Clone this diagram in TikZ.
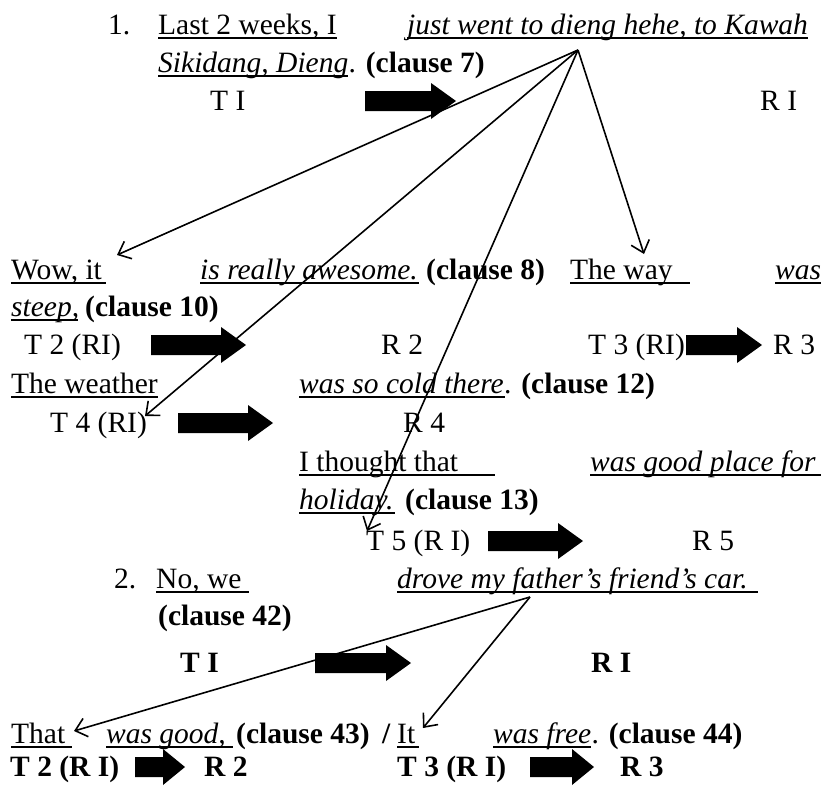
\documentclass[tikz,border=0pt]{standalone}
\usepackage{fontspec}
\setmainfont{Liberation Serif}
\usetikzlibrary{arrows.meta}
\tikzset{
  txt/.style={anchor=base west, inner sep=0pt, font=\fontsize{29.5}{34}\selectfont},
  ulline/.style={line width=1.8pt},
  link/.style={line width=1.6pt, -{Straight Barb[length=11pt,width=19pt,line width=1.6pt]}},
}
% thick block arrow: from x=#1 to x=#2 centred at height #3, head length #4
\newcommand\blockarrow[4]{%
  \fill (#1,#3-10) -- (#2-#4,#3-10) -- (#2-#4,#3-18) -- (#2,#3)
        -- (#2-#4,#3+18) -- (#2-#4,#3+10) -- (#1,#3+10) -- cycle;}
% underline from x=#1 to x=#2 below baseline #3
\newcommand\ulseg[3]{\draw[ulline] (#1,#3+4) -- (#2,#3+4);}
\begin{document}
\begin{tikzpicture}[x=1pt,y=-1pt]
\useasboundingbox (0,0) rectangle (827,785);

% ---- example 1 ----
\node[txt] (n1) at (108,34) {1.};
\node[txt] (l1a) at (158,34) {Last 2 weeks, I};
\ulseg{158}{337}{34}
\node[txt] (l1b) at (407,34) {\itshape just went to dieng hehe, to Kawah};
\ulseg{407}{808}{34}
\node[txt] (l2a) at (158,72) {\itshape Sikidang, Dieng};
\draw[ulline] ([yshift=-4pt]l2a.base west) -- ([yshift=-4pt]l2a.base east);
\node[txt] (l2b) at (l2a.base east) {. \textbf{(clause 7)}};
\node[txt] (t1) at (210,110) {T I};
\blockarrow{365}{456}{101}{25}
\node[txt] (r1) at (760,110) {R I};

\coordinate (hubA) at (578,50);

\node[txt] (wow) at (11,279) {Wow, it};
\ulseg{11}{106}{279}
\node[txt] (awe) at (200,279) {\itshape is really awesome.};
\ulseg{200}{419}{279}
\node[txt] (c8) at (426,279) {\textbf{(clause 8)}};
\node[txt] (way) at (570,279) {The way};
\ulseg{570}{690}{279}
\node[txt] (was) at (775,279) {\itshape was};
\ulseg{775}{821}{279}
\node[txt] (steep) at (11,316) {\itshape steep,};
\ulseg{11}{78}{316}
\node[txt] (c10) at (85,316) {\textbf{(clause 10)}};

\node[txt] (t2) at (24,354) {T 2 (RI)};
\blockarrow{151}{246}{345}{25}
\node[txt] (r2) at (381,354) {R 2};
\node[txt] (t3) at (588,354) {T 3 (RI)};
\blockarrow{686}{762}{345}{25}
\node[txt] (r3) at (773,354) {R 3};

\node[txt] (weather) at (11,393) {The weather};
\ulseg{11}{158}{393}
\node[txt] (cold) at (299,393) {\itshape was so cold there};
\ulseg{299}{505}{393}
\node[txt] (c12) at (cold.base east) {. \textbf{(clause 12)}};

\node[txt] (t4) at (50,432) {T 4 (RI)};
\blockarrow{178}{273}{423}{25}
\node[txt] (r4) at (403,432) {R 4};

\node[txt] (thought) at (299,471) {I thought that};
\ulseg{299}{495}{471}
\node[txt] (place) at (590,471) {\itshape was good place for};
\ulseg{590}{821}{471}
\node[txt] (holiday) at (299,509) {\itshape holiday.};
\ulseg{299}{395}{509}
\node[txt] (c13) at (405,509) {\textbf{(clause 13)}};

\node[txt] (t5) at (366,550) {T 5 (R I)};
\blockarrow{488}{583}{541}{25}
\node[txt] (r5) at (692,550) {R 5};

\coordinate (tipWow) at (117,255);
\coordinate (tipT4) at (145,416);
\coordinate (tipT5) at (367,531);
\coordinate (tipWay) at (644,254);
\draw[link] (hubA) -- (tipWow);
\draw[link] (hubA) -- (tipT4);
\draw[link] (hubA) -- (tipT5);
\draw[link] (hubA) -- (tipWay);

% ---- example 2 ----
\node[txt] (n2) at (114,588) {2.};
\node[txt] (nowe) at (156,588) {No, we};
\ulseg{156}{249}{588}
\node[txt] (drove) at (397,588) {\itshape drove my father’s friend’s car.};
\ulseg{397}{758}{588}
\node[txt] (c42) at (158,625) {\textbf{(clause 42)}};
\node[txt] (bt1) at (180,672) {\textbf{T I}};
\blockarrow{315}{411}{663}{25}
\node[txt] (br1) at (591,672) {\textbf{R I}};

\coordinate (hubB) at (530,597);

\node[txt] (that) at (11,743) {That};
\ulseg{11}{72}{743}
\node[txt] (good) at (106,743) {\itshape was good,};
\ulseg{106}{233}{743}
\node[txt] (c43) at (236,743) {\textbf{(clause 43)}};
\node[txt] (slash) at (382,743) {\textbf{/}};
\node[txt] (it) at (397,743) {It};
\ulseg{397}{419}{743}
\node[txt] (free) at (493,743) {\itshape was free};
\draw[ulline] ([yshift=-4pt]free.base west) -- ([yshift=-4pt]free.base east);
\node[txt] (c44) at (free.base east) {. \textbf{(clause 44)}};

\node[txt] (bt2) at (10,776) {\textbf{T 2 (R I)}};
\blockarrow{135}{185}{767}{22}
\node[txt] (br2) at (204,776) {\textbf{R 2}};
\node[txt] (bt3) at (397,776) {\textbf{T 3 (R I)}};
\blockarrow{530}{594}{767}{22}
\node[txt] (br3) at (620,776) {\textbf{R 3}};

\coordinate (tipThat) at (74,731);
\coordinate (tipIt) at (423,728);
\draw[link] (hubB) -- (tipThat);
\draw[link] (hubB) -- (tipIt);
\end{tikzpicture}
\end{document}
